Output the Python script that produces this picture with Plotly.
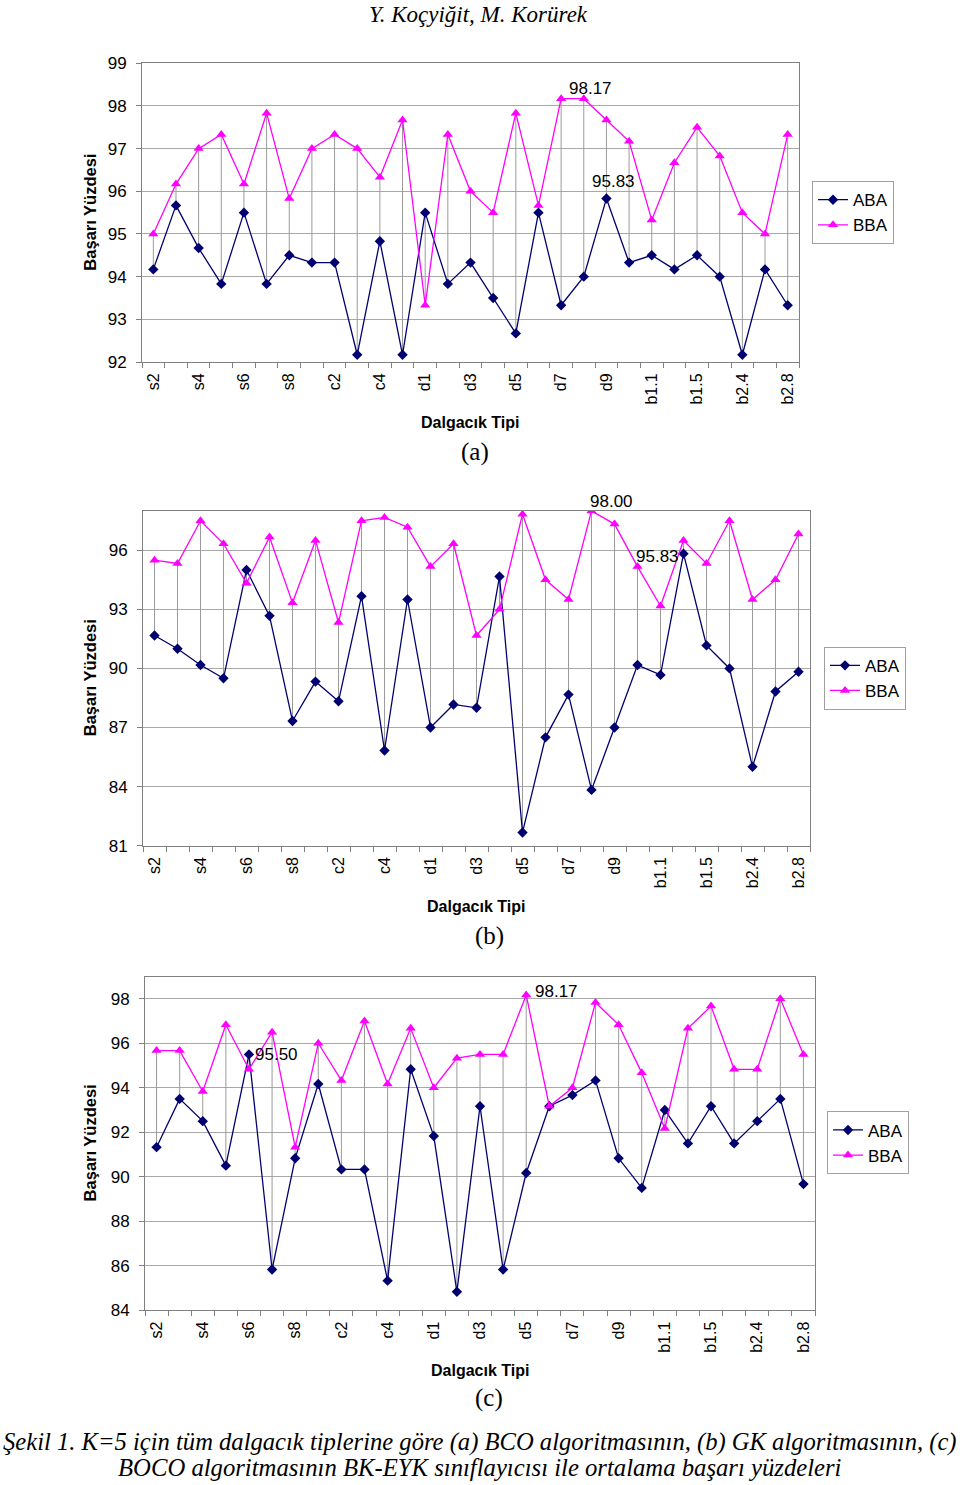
import plotly.graph_objects as go

categories = ["s2", "s3", "s4", "s5", "s6", "s7", "s8",
              "c1", "c2", "c3", "c4", "c5",
              "d1", "d2", "d3", "d4", "d5", "d6", "d7", "d8", "d9", "d10",
              "b1.1", "b1.3", "b1.5", "b2.2", "b2.4", "b2.6", "b2.8"]

aba_a = [94.17, 95.67, 94.67, 93.83, 95.50, 93.83, 94.50, 94.33, 94.33, 92.17, 94.83, 92.17,
         95.50, 93.83, 94.33, 93.50, 92.67, 95.50, 93.33, 94.00, 95.83, 94.33,
         94.50, 94.17, 94.50, 94.00, 92.17, 94.17, 93.33]
bba_a = [95.00, 96.17, 97.00, 97.33, 96.17, 97.83, 95.83, 97.00, 97.33, 97.00, 96.33, 97.67,
         93.33, 97.33, 96.00, 95.50, 97.83, 95.67, 98.17, 98.17, 97.67, 97.17,
         95.33, 96.67, 97.50, 96.83, 95.50, 95.00, 97.33]

aba_b = [91.67, 91.00, 90.17, 89.50, 95.00, 92.67, 87.33, 89.33, 88.33, 93.67, 85.83, 93.50,
         87.00, 88.17, 88.00, 94.67, 81.67, 86.50, 88.67, 83.83, 87.00, 90.17,
         89.67, 95.83, 91.17, 90.00, 85.00, 88.83, 89.83]
bba_b = [95.50, 95.33, 97.50, 96.33, 94.33, 96.67, 93.33, 96.50, 92.33, 97.50, 97.67, 97.17,
         95.17, 96.33, 91.67, 93.00, 97.83, 94.50, 93.50, 98.00, 97.33, 95.17,
         93.17, 96.50, 95.33, 97.50, 93.50, 94.50, 96.83]

aba_c = [91.33, 93.50, 92.50, 90.50, 95.50, 85.83, 90.83, 94.17, 90.33, 90.33, 85.33, 94.83,
         91.83, 84.83, 93.17, 85.83, 90.17, 93.17, 93.67, 94.33, 90.83, 89.50,
         93.00, 91.50, 93.17, 91.50, 92.50, 93.50, 89.67]
bba_c = [95.67, 95.67, 93.83, 96.83, 94.83, 96.50, 91.33, 96.00, 94.33, 97.00, 94.17, 96.67,
         94.00, 95.33, 95.50, 95.50, 98.17, 93.17, 94.00, 97.83, 96.83, 94.67,
         92.17, 96.67, 97.67, 94.83, 94.83, 98.00, 95.50]

series_names = ["ABA", "BBA"]
y_ranges = [(92, 99, 1), (81, 98, 3), (84, 99, 2)]
panel_labels = ["(a)", "(b)", "(c)"]
# data labels: (category, series index, text, xshift, yshift)
data_labels = [
    [("d8", 1, "98.17", 7, 10), ("d9", 0, "95.83", 7, 17)],
    [("d8", 1, "98.00", 20, 9), ("b1.3", 0, "95.83", -26, -3)],
    [("s6", 0, "95.50", 28, 0), ("d5", 1, "98.17", 30, 3)],
]

W, H = 960, 1485
# plot area boxes in pixels (target positions): left, right, top, bottom
boxes = [(142, 799, 62, 361), (143, 810, 510, 845), (145, 815, 976, 1310)]
legend_pos = [(812, 180), (824, 646), (827, 1111)]
xtitle_y = [422, 906, 1370]
xtitle_x = [470, 476, 480]
panel_y = [451, 935, 1398]
panel_x = [475, 490, 489]

ABA_COLOR = "#000070"
BBA_COLOR = "#FF00FF"
GRID = "#a8a8a8"
SANS = "Liberation Sans, Arial, sans-serif"
SERIF = "Liberation Serif, Times New Roman, serif"

# observed vertical mapping of the capture: shown_y = 7.7 + 0.988 * figure_y
Y_OFF, Y_SCALE = 7.7, 0.988

def px_x(p):
    return p / W

def px_y(p):
    fy = (p - Y_OFF) / Y_SCALE
    fy = max(0.0, min(H, fy))
    return 1 - fy / H

fig = go.Figure()
xs = list(range(len(categories)))
datasets = [(aba_a, bba_a), (aba_b, bba_b), (aba_c, bba_c)]

annotations = []
def paper_text(text, x, y, font, angle=0):
    annotations.append(dict(text=text, x=px_x(x), y=px_y(y), xref="paper", yref="paper",
                            xanchor="center", yanchor="middle", textangle=angle,
                            showarrow=False, font=font))

for k, (aba, bba) in enumerate(datasets):
    sfx = "" if k == 0 else str(k + 1)
    xa, ya = "x" + sfx, "y" + sfx
    leg = "legend" + sfx
    # high-low lines
    hx, hy = [], []
    for i in xs:
        hx += [i, i, None]
        hy += [aba[i], bba[i], None]
    fig.add_trace(go.Scatter(x=hx, y=hy, mode="lines", xaxis=xa, yaxis=ya,
                             line=dict(color="#9a9a9a", width=1), showlegend=False,
                             hoverinfo="skip"))
    fig.add_trace(go.Scatter(x=xs, y=aba, name=series_names[0], mode="lines+markers",
                             xaxis=xa, yaxis=ya, legend=leg,
                             line=dict(color=ABA_COLOR, width=1.3),
                             marker=dict(symbol="diamond", size=8, color=ABA_COLOR)))
    fig.add_trace(go.Scatter(x=xs, y=bba, name=series_names[1], mode="lines+markers",
                             xaxis=xa, yaxis=ya, legend=leg,
                             line=dict(color=BBA_COLOR, width=1.3),
                             marker=dict(symbol="triangle-up", size=9, color=BBA_COLOR)))
    l, r, t, b = boxes[k]
    lo, hi, step = y_ranges[k]
    tv = list(range(lo, hi + 1, step))
    fig.layout["xaxis" + sfx] = dict(
        domain=[px_x(l), px_x(r)], anchor=ya, range=[-0.5, len(categories) - 0.5],
        tickmode="array", tickvals=xs[::2], ticktext=categories[::2], tickangle=-90,
        ticks="", showgrid=False, zeroline=False, ticklabelstandoff=4,
        showline=True, linecolor="#808080", linewidth=1, mirror=True,
        tickfont=dict(family=SANS, size=16, color="black"),
        minor=dict(tickmode="linear", tick0=-0.5, dtick=1, ticks="outside",
                   ticklen=5, tickcolor="#808080", tickwidth=1, showgrid=False),
    )
    fig.layout["yaxis" + sfx] = dict(
        domain=[px_y(b), px_y(t)], anchor=xa, range=[lo, hi],
        tickmode="array", tickvals=tv, ticks="outside", ticklen=5, tickcolor="#808080",
        showgrid=True, gridcolor=GRID, gridwidth=1, zeroline=False, ticklabelstandoff=6,
        showline=True, linecolor="#808080", linewidth=1, mirror=True,
        tickfont=dict(family=SANS, size=17, color="black"),
    )
    lx, ly = legend_pos[k]
    fig.layout[leg] = dict(x=px_x(lx), y=px_y(ly), xanchor="left", yanchor="top",
                           bordercolor="#a0a0a0", borderwidth=1, bgcolor="white",
                           font=dict(family=SANS, size=17, color="black"),
                           tracegroupgap=0, itemwidth=30)
    paper_text("<b>Başarı Yüzdesi</b>", 90, (t + b) / 2,
               dict(family=SANS, size=16.5, color="black"), angle=-90)
    paper_text("<b>Dalgacık Tipi</b>", xtitle_x[k], xtitle_y[k],
               dict(family=SANS, size=16, color="black"))
    paper_text(panel_labels[k], panel_x[k], panel_y[k],
               dict(family=SERIF, size=25, color="black"))
    for cat, si, txt, xsh, ysh in data_labels[k]:
        idx = categories.index(cat)
        yv = (aba, bba)[si][idx]
        annotations.append(dict(text=txt, x=idx, y=yv, xref=xa, yref=ya, showarrow=False,
                                xanchor="center", yanchor="middle",
                                xshift=xsh, yshift=ysh,
                                font=dict(family=SANS, size=17, color="black")))

paper_text("<i>Y. Koçyiğit, M. Korürek</i>", 478, 13, dict(family=SERIF, size=23, color="black"))
paper_text("<i>Şekil 1. K=5 için tüm dalgacık tiplerine göre (a) BCO algoritmasının, (b) GK algoritmasının, (c)</i>",
           480, 1442, dict(family=SERIF, size=24.6, color="black"))
paper_text("<i>BOCO algoritmasının BK-EYK sınıflayıcısı ile ortalama başarı yüzdeleri</i>",
           480, 1467, dict(family=SERIF, size=24.7, color="black"))

fig.update_layout(width=W, height=H, margin=dict(l=0, r=0, t=0, b=0),
                  paper_bgcolor="white", plot_bgcolor="white",
                  annotations=annotations, showlegend=True)

pin_script = (
    "document.documentElement.style.margin='0';"
    "document.documentElement.style.overflow='hidden';"
    "document.body.style.margin='0';"
    "document.body.style.overflow='hidden';"
    "var gd=document.getElementById('{plot_id}');"
    "gd.style.position='fixed';gd.style.top='0px';gd.style.left='0px';"
)
fig.write_html("out.html", config={"responsive": False, "displayModeBar": False},
               post_script=pin_script)
